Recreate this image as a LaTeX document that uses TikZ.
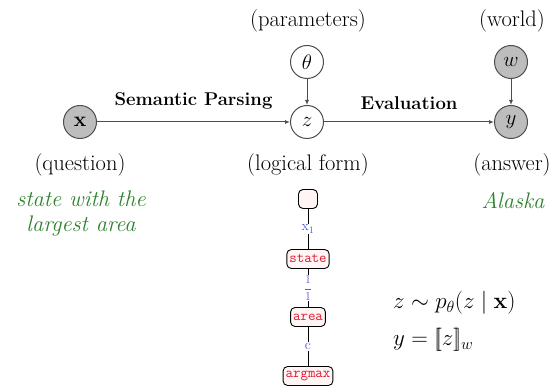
\RequirePackage{fix-cm}
\documentclass[tikz,border=0pt]{standalone}
\usetikzlibrary{arrows.meta}
\definecolor{circfill}{gray}{0.74}
\definecolor{circdraw}{gray}{0.3}
\definecolor{txtgreen}{RGB}{45,130,45}
\definecolor{lfred}{RGB}{225,25,50}
\definecolor{lfblue}{RGB}{90,90,230}
\definecolor{lffill}{RGB}{255,245,245}
\tikzset{
  var/.style={circle, draw=circdraw, line width=1pt, minimum size=33pt, inner sep=0pt, font=\fontsize{21}{24}\selectfont},
  obs/.style={var, fill=circfill},
  lat/.style={var, fill=white},
  lbl/.style={font=\fontsize{22.5}{26}\selectfont, inner sep=0pt},
  bold lbl/.style={font=\fontsize{18.5}{22}\selectfont\bfseries, inner sep=0pt},
  green lbl/.style={font=\fontsize{22.5}{25}\selectfont\itshape, text=txtgreen, inner sep=0pt, align=center},
  conn/.style={draw=circdraw, line width=1pt, -{Latex[length=5pt,width=4pt]}},
  pred/.style={draw, rounded corners=4.5pt, line width=0.9pt, fill=lffill, text=lfred, font=\fontsize{14.5}{16}\selectfont\ttfamily, inner xsep=2.5pt, inner ysep=1.5pt, minimum height=19pt},
  tedge/.style={draw, line width=0.9pt},
  elbl/.style={fill=white, text=lfblue, inner sep=1pt, font=\fontsize{14}{15}\selectfont},
}
\begin{document}
\begin{tikzpicture}[x=1pt,y=-1pt]
\useasboundingbox (0,0) rectangle (555,387);
% variables
\node[obs] (x) at (80,122) {$\mathbf{x}$};
\node[lat] (z) at (307,122) {$z$};
\node[obs] (y) at (511,122) {$y$};
\node[lat] (th) at (307,62) {$\theta$};
\node[obs] (w) at (511,62) {$w$};
% labels
\node[lbl] (lpar) at (308,21) {(parameters)};
\node[lbl] (lwor) at (512,21) {(world)};
\node[lbl] (lq) at (80,165) {(question)};
\node[lbl] (llf) at (308,165) {(logical form)};
\node[lbl] (lans) at (512,165) {(answer)};
\node[green lbl] (qtext) at (81,213) {state with the\\largest area};
\node[green lbl] (atext) at (513,201) {Alaska};
% connectors
\draw[conn] (x) -- node[bold lbl, above=12pt] (sp) {Semantic Parsing} (z);
\draw[conn] (z) -- node[bold lbl, above=12pt] (ev) {Evaluation} (y);
\draw[conn] (th) -- (z);
\draw[conn] (w) -- (y);
% logical form tree
\node[pred, minimum width=19pt, inner sep=0pt] (root) at (308,199) {};
\node[pred] (state) at (308,259) {state};
\node[pred] (area) at (308,317) {area};
\node[pred] (argmax) at (308,376) {argmax};
\draw[tedge] (root) -- node[elbl] (e1) {x$_1$} (state);
\draw[tedge] (state) -- node[elbl, inner sep=0.5pt, font=\fontsize{12}{13}\selectfont] (e2) {$\displaystyle\frac{1}{1}$} (area);
\draw[tedge] (area) -- node[elbl] (e3) {c} (argmax);
% equations
\node[lbl, anchor=west, font=\fontsize{23}{26}\selectfont] (eq1) at (393,303) {$z \sim p_\theta(z \mid \mathbf{x})$};
\node[lbl, anchor=west, font=\fontsize{23}{26}\selectfont] (eq2) at (393,340) {$y = [\![ z ]\!]_w$};
\end{tikzpicture}
\end{document}
